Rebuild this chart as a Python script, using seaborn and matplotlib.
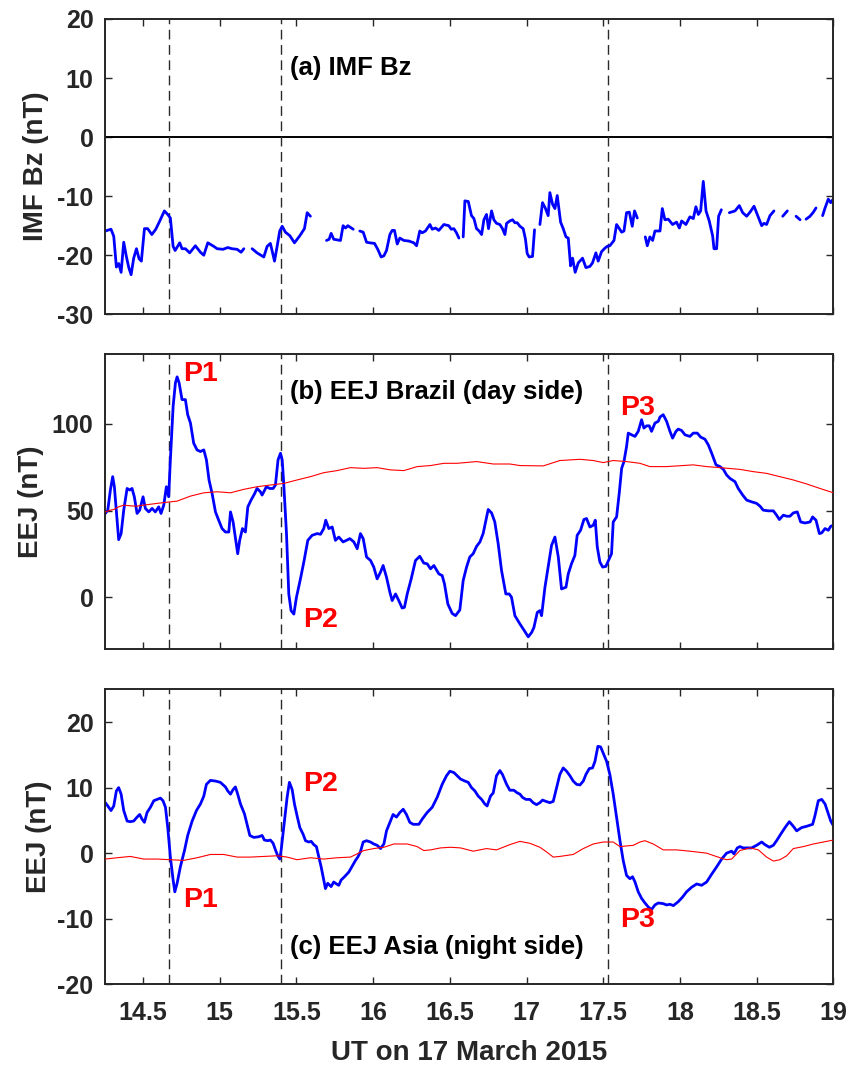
import numpy as np
import pandas as pd
import matplotlib
matplotlib.use("Agg")
import matplotlib.pyplot as plt
import seaborn as sns

nan = float("nan")

# ---- IMF Bz (nT); NaN marks data gaps ----
bz_time = [14.254, 14.291, 14.309, 14.326, 14.341, 14.357, 14.374, 14.391, 14.407, 14.422,
           14.439, 14.457, 14.474, 14.489, 14.509, 14.530, 14.557, 14.583, 14.609, 14.639,
           14.661, 14.678, 14.696, 14.709, 14.739, 14.754, 14.776, 14.804, 14.841, 14.874,
           14.896, 14.922, 14.961, 14.983, 15.022, 15.052, 15.080, 15.113, 15.139, 15.157,
           15.180,
           15.211, 15.243, 15.287, 15.309, 15.330, 15.357, 15.374, 15.391, 15.407, 15.428,
           15.457, 15.487, 15.522, 15.552, 15.570, 15.591,
           15.640,
           15.696, 15.713, 15.726, 15.743, 15.787, 15.804, 15.820, 15.835, 15.870,
           15.890,
           15.913, 15.935, 15.957, 15.978, 16.009, 16.030, 16.052, 16.070, 16.087, 16.109,
           16.124, 16.139, 16.157, 16.174, 16.200, 16.233, 16.265, 16.283, 16.304, 16.320,
           16.341, 16.370, 16.385, 16.407, 16.428, 16.461, 16.493, 16.509, 16.526, 16.543,
           16.559,
           16.573,
           16.587, 16.598, 16.620, 16.641, 16.657, 16.674, 16.691, 16.707, 16.722, 16.739,
           16.752, 16.772, 16.787, 16.804, 16.826, 16.843, 16.859, 16.870, 16.891, 16.909,
           16.924, 16.939, 16.957, 16.978, 16.993, 17.004, 17.017, 17.039, 17.052,
           17.070,
           17.087, 17.104, 17.122, 17.141, 17.152, 17.170, 17.185, 17.200, 17.222, 17.239,
           17.257, 17.272, 17.287, 17.300, 17.317, 17.337, 17.365, 17.387, 17.413, 17.430,
           17.452, 17.467, 17.489, 17.511, 17.526, 17.543, 17.570, 17.587, 17.620, 17.635,
           17.652, 17.670, 17.689, 17.704, 17.722,
           17.750,
           17.774, 17.787, 17.804, 17.822, 17.837, 17.870, 17.885, 17.902, 17.924, 17.952,
           17.978, 17.996, 18.011, 18.039, 18.065, 18.087, 18.104, 18.120, 18.135, 18.152,
           18.170, 18.191, 18.213, 18.222, 18.239, 18.252, 18.270,
           18.300,
           18.322, 18.359, 18.387, 18.409, 18.435, 18.457, 18.483, 18.504, 18.533, 18.548,
           18.565, 18.587, 18.613,
           18.640,
           18.670, 18.700,
           18.730,
           18.757, 18.783,
           18.800,
           18.822, 18.848, 18.870, 18.887,
           18.910,
           18.930, 18.946, 18.967, 18.983, 18.996]
bz_values = [-15.9, -15.6, -16.8, -22.0, -21.4, -22.9, -17.8, -20.2, -22.1, -23.3,
             -20.5, -18.9, -20.6, -21.0, -15.5, -15.5, -16.5, -15.6, -14.2, -12.5,
             -13.1, -13.7, -18.5, -19.2, -17.9, -18.9, -18.9, -19.6, -18.4, -19.5,
             -20.0, -17.9, -18.5, -18.9, -19.0, -18.7, -18.9, -19.0, -19.5, -18.9,
             nan,
             -18.9, -19.6, -20.3, -18.5, -18.0, -21.0, -18.5, -15.9, -15.1, -16.1,
             -16.7, -17.9, -16.7, -15.5, -12.8, -13.4,
             nan,
             -17.5, -17.3, -16.3, -17.3, -17.5, -15.0, -15.4, -15.0, -15.6,
             nan,
             -15.9, -16.1, -17.8, -17.9, -18.0, -19.0, -20.3, -20.1, -19.2, -16.5,
             -15.8, -15.8, -18.1, -17.1, -17.5, -17.6, -17.9, -18.4, -15.9, -16.2,
             -15.9, -14.8, -15.6, -15.4, -15.8, -14.8, -15.0, -15.6, -15.5, -16.2,
             -17.1,
             nan,
             -16.9, -10.8, -10.9, -13.3, -13.8, -15.5, -15.9, -16.5, -14.0, -13.1,
             -15.5, -12.5, -14.0, -14.6, -14.8, -15.5, -16.5, -14.6, -14.2, -14.0,
             -14.5, -14.5, -15.1, -15.5, -17.3, -19.7, -20.3, -20.2, -15.7,
             nan,
             -14.8, -11.1, -12.0, -13.3, -9.4, -11.4, -12.1, -9.9, -14.4, -15.5,
             -16.9, -17.1, -21.8, -20.5, -22.9, -21.3, -20.5, -22.1, -21.9, -21.3,
             -19.6, -21.0, -19.4, -18.8, -18.5, -18.4, -17.5, -14.8, -16.1, -15.9,
             -12.8, -12.7, -15.1, -12.5, -13.7,
             nan,
             -16.9, -18.4, -16.9, -17.5, -15.9, -15.9, -12.1, -14.0, -13.9, -14.8,
             -14.4, -15.4, -14.2, -14.8, -13.5, -13.8, -11.8, -13.1, -12.5, -7.5,
             -12.5, -14.2, -16.7, -18.9, -18.9, -13.4, -12.3,
             nan,
             -12.8, -12.5, -11.6, -12.8, -13.4, -12.7, -11.7, -13.1, -15.0, -14.6,
             -14.8, -13.3, -12.5,
             nan,
             -13.4, -12.5,
             nan,
             -13.4, -14.0,
             nan,
             -13.9, -13.4, -12.7, -12.0,
             nan,
             -13.3, -12.0, -10.5, -11.1, -10.6]

# ---- EEJ Brazil (nT) ----
brazil_time = [14.254, 14.270, 14.287, 14.302, 14.313, 14.341, 14.357, 14.374, 14.396, 14.413,
               14.428, 14.443, 14.461, 14.478, 14.500, 14.515, 14.537, 14.559, 14.580, 14.602,
               14.617, 14.635, 14.652, 14.667, 14.678, 14.696, 14.711, 14.722, 14.735, 14.754,
               14.776, 14.791, 14.809, 14.830, 14.852, 14.874, 14.896, 14.913, 14.930, 14.950,
               14.972, 14.993, 15.015, 15.037, 15.059, 15.070, 15.087, 15.104, 15.117, 15.130,
               15.148, 15.167, 15.183, 15.204, 15.226, 15.243, 15.265, 15.276, 15.304, 15.326,
               15.348, 15.363, 15.380, 15.396, 15.407, 15.417, 15.435, 15.450, 15.465, 15.483,
               15.500, 15.526, 15.548, 15.574, 15.602, 15.635, 15.657, 15.678, 15.691, 15.711,
               15.733, 15.754, 15.776, 15.804, 15.826, 15.848, 15.874, 15.896, 15.917, 15.935,
               15.957, 15.983, 16.004, 16.026, 16.048, 16.065, 16.087, 16.109, 16.124, 16.146,
               16.167, 16.189, 16.204, 16.222, 16.248, 16.276, 16.304, 16.330, 16.352, 16.374,
               16.396, 16.428, 16.450, 16.465, 16.487, 16.515, 16.537, 16.565, 16.587, 16.609,
               16.630, 16.652, 16.674, 16.696, 16.717, 16.735, 16.750, 16.772, 16.793, 16.815,
               16.837, 16.865, 16.887, 16.902, 16.924, 16.957, 16.983, 17.011, 17.033, 17.048,
               17.070, 17.087, 17.098, 17.120, 17.141, 17.163, 17.185, 17.207, 17.228, 17.257,
               17.272, 17.293, 17.315, 17.330, 17.352, 17.374, 17.391, 17.413, 17.435, 17.448,
               17.461, 17.478, 17.496, 17.517, 17.539, 17.554, 17.565, 17.587, 17.604, 17.620,
               17.635, 17.652, 17.663, 17.685, 17.707, 17.728, 17.750, 17.765, 17.783, 17.800,
               17.815, 17.837, 17.859, 17.870, 17.891, 17.913, 17.935, 17.952, 17.974, 17.989,
               18.011, 18.033, 18.065, 18.087, 18.113, 18.135, 18.163, 18.185, 18.207, 18.235,
               18.261, 18.283, 18.304, 18.326, 18.359, 18.380, 18.409, 18.435, 18.467, 18.500,
               18.522, 18.543, 18.576, 18.609, 18.630, 18.648, 18.674, 18.696, 18.717, 18.739,
               18.765, 18.787, 18.815, 18.848, 18.865, 18.887, 18.909, 18.924, 18.946, 18.967,
               18.983, 19.000]
brazil_eej = [48.3, 50.2, 61.8, 69.5, 63.7, 33.2, 36.7, 50.2, 62.7, 61.8,
              62.7, 57.9, 48.3, 50.2, 57.9, 51.2, 49.2, 51.2, 49.2, 52.1,
              48.3, 53.1, 63.7, 57.9, 79.2, 110.0, 123.6, 127.0, 123.6, 113.9,
              113.9, 105.2, 100.4, 88.8, 84.9, 84.0, 84.9, 79.2, 67.6, 59.8,
              49.2, 44.4, 39.6, 37.6, 37.6, 49.2, 43.4, 32.8, 25.1, 32.8,
              39.6, 37.6, 52.1, 56.0, 59.5, 62.7, 60.8, 58.9, 63.7, 62.7,
              62.7, 64.7, 79.2, 83.0, 79.2, 65.6, 36.7, 1.9, -7.7, -9.7,
              0.0, 10.6, 20.3, 32.8, 35.7, 36.7, 36.3, 39.6, 44.4, 39.6,
              40.5, 32.8, 34.7, 31.9, 32.8, 33.8, 31.9, 28.0, 36.7, 33.8,
              23.2, 21.2, 17.4, 10.6, 14.5, 18.3, 11.6, 2.9, -1.9, 1.9,
              -1.9, -6.2, -5.8, 1.9, 10.6, 21.2, 23.6, 19.7, 19.3, 16.4,
              18.3, 13.5, 12.5, 7.7, -3.9, -9.3, -10.6, -7.3, 9.7, 17.4,
              23.2, 25.1, 29.3, 31.9, 36.7, 44.4, 50.6, 48.6, 43.4, 30.9,
              15.4, 1.9, 1.9, 0.0, -10.6, -15.4, -18.9, -22.8, -20.3, -17.4,
              -8.7, -7.7, -10.6, 5.8, 17.4, 29.9, 34.7, 23.2, 4.8, 5.8,
              13.5, 19.3, 24.1, 35.7, 38.6, 44.8, 45.4, 40.5, 41.5, 44.4,
              29.0, 20.3, 17.4, 17.8, 22.2, 25.1, 43.4, 46.3, 59.8, 74.3,
              78.2, 86.9, 94.6, 93.6, 92.7, 95.6, 102.3, 97.5, 98.8, 98.8,
              95.6, 100.4, 101.4, 103.9, 105.2, 101.4, 95.6, 91.7, 95.6, 96.9,
              96.1, 93.6, 92.7, 94.6, 94.6, 92.3, 91.1, 87.8, 83.0, 76.3,
              75.3, 73.7, 70.5, 68.5, 66.6, 62.7, 58.9, 56.0, 55.0, 54.1,
              52.5, 50.2, 49.8, 49.8, 47.3, 44.8, 47.3, 46.7, 46.7, 48.6,
              49.2, 43.4, 42.8, 43.4, 46.3, 44.4, 36.7, 37.1, 39.6, 38.6,
              40.9, 41.5]

# ---- EEJ Brazil quiet-day reference (nT) ----
brazil_quiet_time = [14.254, 14.287, 14.309, 14.341, 14.374, 14.417, 14.461, 14.504, 14.591, 14.678,
                     14.722, 14.809, 14.896, 14.983, 15.070, 15.157, 15.243, 15.330, 15.417, 15.504,
                     15.591, 15.678, 15.765, 15.852, 15.939, 16.026, 16.113, 16.200, 16.287, 16.374,
                     16.461, 16.548, 16.674, 16.783, 16.891, 16.957, 17.109, 17.217, 17.348, 17.435,
                     17.500, 17.565, 17.652, 17.739, 17.804, 17.913, 18.087, 18.174, 18.261, 18.391,
                     18.478, 18.565, 18.652, 18.739, 18.826, 18.913, 19.000]
brazil_quiet = [49.2, 50.2, 50.6, 52.1, 53.1, 52.7, 52.5, 53.1, 54.1, 55.0,
                55.4, 58.3, 60.2, 60.8, 60.2, 62.2, 63.7, 64.7, 65.6, 67.6,
                69.5, 71.8, 73.0, 74.7, 74.3, 74.7, 73.4, 73.0, 75.3, 75.9,
                77.2, 77.2, 78.2, 76.8, 76.8, 75.9, 75.7, 78.8, 79.5, 78.8,
                77.6, 78.8, 78.2, 77.2, 75.3, 75.3, 76.3, 75.3, 74.7, 73.7,
                72.4, 71.4, 69.5, 67.6, 65.3, 62.7, 60.2]

# ---- EEJ Asia (nT) ----
asia_time = [14.254, 14.270, 14.291, 14.309, 14.326, 14.341, 14.357, 14.374, 14.396, 14.417,
             14.439, 14.461, 14.478, 14.493, 14.509, 14.526, 14.548, 14.570, 14.591, 14.613,
             14.630, 14.646, 14.661, 14.678, 14.696, 14.707, 14.722, 14.743, 14.770, 14.791,
             14.820, 14.848, 14.874, 14.896, 14.913, 14.939, 14.972, 15.004, 15.037, 15.052,
             15.070, 15.087, 15.102, 15.117, 15.135, 15.161, 15.178, 15.196, 15.222, 15.254,
             15.276, 15.291, 15.313, 15.330, 15.348, 15.363, 15.378, 15.391, 15.400, 15.417,
             15.439, 15.454, 15.472, 15.487, 15.504, 15.522, 15.543, 15.559, 15.580, 15.596,
             15.613, 15.630, 15.646, 15.661, 15.678, 15.689, 15.704, 15.726, 15.743, 15.761,
             15.776, 15.791, 15.813, 15.841, 15.863, 15.885, 15.900, 15.917, 15.935, 15.957,
             15.983, 16.004, 16.026, 16.048, 16.070, 16.087, 16.109, 16.130, 16.152, 16.174,
             16.196, 16.217, 16.239, 16.261, 16.298, 16.320, 16.352, 16.385, 16.417, 16.450,
             16.478, 16.500, 16.526, 16.548, 16.570, 16.598, 16.620, 16.641, 16.663, 16.685,
             16.707, 16.728, 16.743, 16.765, 16.783, 16.804, 16.826, 16.843, 16.870, 16.891,
             16.917, 16.939, 16.957, 16.974, 16.996, 17.022, 17.043, 17.065, 17.087, 17.104,
             17.126, 17.152, 17.174, 17.196, 17.217, 17.239, 17.261, 17.283, 17.304, 17.326,
             17.348, 17.370, 17.387, 17.409, 17.430, 17.446, 17.465, 17.483, 17.504, 17.522,
             17.543, 17.565, 17.587, 17.609, 17.630, 17.652, 17.674, 17.691, 17.707, 17.728,
             17.750, 17.772, 17.793, 17.815, 17.837, 17.859, 17.891, 17.913, 17.935, 17.957,
             17.989, 18.017, 18.043, 18.076, 18.109, 18.141, 18.174, 18.207, 18.239, 18.272,
             18.304, 18.337, 18.352, 18.374, 18.391, 18.413, 18.467, 18.500, 18.533, 18.554,
             18.583, 18.609, 18.630, 18.657, 18.685, 18.713, 18.739, 18.761, 18.793, 18.826,
             18.865, 18.880, 18.902, 18.924, 18.946, 18.967, 18.983, 19.000]
asia_eej = [7.7, 7.2, 6.5, 7.2, 9.5, 10.0, 9.0, 6.5, 4.9, 4.8,
            4.9, 5.5, 5.9, 5.2, 4.7, 6.2, 7.0, 8.0, 8.2, 8.4,
            8.0, 7.0, 3.9, -0.6, -4.1, -5.9, -4.6, -2.1, 0.4, 2.7,
            4.9, 6.5, 7.5, 8.7, 10.5, 11.1, 11.0, 10.8, 10.1, 9.5,
            9.0, 9.7, 10.1, 9.0, 7.5, 6.0, 4.4, 2.7, 2.4, 2.5,
            2.7, 2.0, 1.9, 2.0, 1.5, 0.5, -0.4, -0.9, 0.4, 3.9,
            8.5, 10.8, 9.7, 7.5, 5.7, 3.9, 2.9, 1.9, 1.7, 1.8,
            1.3, 1.0, -0.6, -2.1, -4.1, -5.4, -4.6, -5.1, -4.4, -4.7,
            -4.9, -4.1, -3.6, -2.9, -2.0, -1.1, -0.6, 0.2, 1.7, 1.9,
            1.7, 1.4, 1.2, 0.7, 1.4, 3.4, 4.7, 5.9, 5.5, 6.2,
            6.7, 5.9, 4.7, 4.4, 4.4, 5.2, 6.2, 7.0, 8.5, 10.5,
            11.8, 12.5, 12.3, 11.8, 11.3, 11.0, 10.8, 10.0, 9.5, 8.7,
            8.2, 7.5, 7.2, 8.7, 9.2, 11.8, 12.6, 12.0, 10.5, 9.6,
            9.6, 9.2, 9.0, 8.5, 8.2, 8.2, 7.7, 7.4, 7.7, 8.1,
            7.9, 7.7, 7.9, 10.0, 12.0, 13.0, 12.5, 11.8, 11.0, 10.5,
            10.4, 11.0, 12.0, 12.9, 13.0, 14.0, 16.3, 16.2, 15.0, 14.0,
            12.0, 9.0, 5.5, 1.9, -1.1, -3.4, -3.9, -3.6, -4.4, -5.9,
            -6.9, -7.6, -8.2, -8.6, -7.9, -7.6, -7.7, -7.9, -7.8, -8.0,
            -7.4, -6.7, -5.9, -5.2, -4.7, -4.9, -4.4, -3.2, -2.1, -0.9,
            0.0, 0.3, -0.1, 0.8, 1.0, 0.8, 0.8, 1.2, 1.7, 1.3,
            0.9, 1.2, 1.9, 2.9, 3.9, 4.8, 4.1, 3.4, 3.9, 4.1,
            4.4, 5.7, 8.0, 8.2, 7.5, 6.0, 4.9, 4.2]

# ---- EEJ Asia quiet-day reference (nT) ----
asia_quiet_time = [14.254, 14.330, 14.417, 14.504, 14.591, 14.678, 14.765, 14.852, 14.939, 15.026,
                   15.113, 15.200, 15.287, 15.374, 15.439, 15.504, 15.591, 15.678, 15.765, 15.852,
                   15.896, 15.939, 16.004, 16.070, 16.135, 16.222, 16.287, 16.330, 16.374, 16.439,
                   16.504, 16.570, 16.652, 16.739, 16.804, 16.891, 16.957, 17.022, 17.087, 17.130,
                   17.174, 17.217, 17.304, 17.370, 17.435, 17.500, 17.565, 17.609, 17.696, 17.739,
                   17.772, 17.826, 17.891, 17.978, 18.065, 18.174, 18.261, 18.304, 18.337, 18.391,
                   18.457, 18.511, 18.565, 18.609, 18.652, 18.696, 18.739, 18.804, 18.870, 18.935,
                   19.000]
asia_quiet = [-0.9, -0.7, -0.5, -0.9, -0.9, -1.0, -1.1, -0.7, -0.2, -0.2,
              -0.6, -0.6, -0.5, -0.4, -0.6, -1.0, -0.7, -0.9, -0.7, -0.6,
              -0.1, 0.4, 0.7, 0.9, 1.4, 1.4, 1.0, 0.4, 0.5, 0.8,
              0.9, 0.8, 0.3, 0.7, 0.5, 1.3, 1.8, 1.5, 0.9, 0.2,
              -0.6, -0.5, -0.2, 0.7, 1.4, 1.7, 1.7, 1.0, 1.2, 1.7,
              1.9, 1.4, 0.5, 0.5, 0.3, 0.0, -0.7, -1.0, -0.9, 0.4,
              0.8, 0.5, -0.6, -1.2, -1.0, -0.4, 0.7, 1.0, 1.4, 1.7,
              2.0]

# ---- event markers and axis ticks ----
event_times = [14.67, 15.40, 17.53]
x_ticks = [14.5, 15, 15.5, 16, 16.5, 17, 17.5, 18, 18.5, 19]
x_tick_labels = ["14.5", "15", "15.5", "16", "16.5", "17", "17.5", "18", "18.5", "19"]
bz_ticks = [-30, -20, -10, 0, 10, 20]
brazil_ticks = [0, 50, 100]
asia_ticks = [-20, -10, 0, 10, 20]

# ---- style ----
sns.set_style("ticks")
plt.rcParams["font.family"] = ["Liberation Sans", "DejaVu Sans"]
plt.rcParams["font.weight"] = "bold"
plt.rcParams["axes.labelweight"] = "bold"
plt.rcParams["axes.unicode_minus"] = False

INK = "#262626"
BLUE = "#0000FF"
RED = "#FF0000"

fig = plt.figure(figsize=(8.52, 10.65), dpi=100)
ax_a = fig.add_axes([0.1229, 0.7049, 0.8552, 0.2773])
ax_b = fig.add_axes([0.1229, 0.3903, 0.8552, 0.2770])
ax_c = fig.add_axes([0.1229, 0.0758, 0.8552, 0.2770])


def segmented_frame(t, v):
    df = pd.DataFrame({"t": t, "v": v})
    df["seg"] = df["v"].isna().cumsum()
    return df.dropna()


bz_df = segmented_frame(bz_time, bz_values)
sns.lineplot(data=bz_df, x="t", y="v", units="seg", estimator=None, sort=False,
             color=BLUE, lw=2.0, ax=ax_a)
ax_a.axhline(0, color="black", lw=1.4, zorder=1)

sns.lineplot(x=brazil_quiet_time, y=brazil_quiet, color=RED, lw=0.8, ax=ax_b, zorder=3)
sns.lineplot(x=brazil_time, y=brazil_eej, color=BLUE, lw=2.0, ax=ax_b, zorder=2)

sns.lineplot(x=asia_quiet_time, y=asia_quiet, color=RED, lw=0.8, ax=ax_c, zorder=3)
sns.lineplot(x=asia_time, y=asia_eej, color=BLUE, lw=2.0, ax=ax_c, zorder=2)

limits = {ax_a: (-30, 20), ax_b: (-30, 140), ax_c: (-20, 25)}
yticks = {ax_a: bz_ticks, ax_b: brazil_ticks, ax_c: asia_ticks}
ylabels = {ax_a: "IMF Bz (nT)", ax_b: "EEJ (nT)", ax_c: "EEJ (nT)"}
ylabel_x = {ax_a: -0.077, ax_b: -0.084, ax_c: -0.073}

for ax in (ax_a, ax_b, ax_c):
    for t in event_times:
        ax.axvline(t, color="#2a2a2a", lw=1.0, dashes=(7, 4), zorder=1)
    ax.set_xlim(14.25, 19.0)
    ax.set_ylim(*limits[ax])
    ax.set_xticks(x_ticks)
    ax.set_yticks(yticks[ax])
    ax.tick_params(direction="in", length=5, width=1.0, colors=INK,
                   top=True, right=True, labelsize=18, pad=8)
    for s in ax.spines.values():
        s.set_color(INK)
        s.set_linewidth(1.4)
    ax.set_ylabel(ylabels[ax], fontsize=20, fontweight="bold", color=INK)
    ax.yaxis.set_label_coords(ylabel_x[ax], 0.5)
    ax.set_xlabel("")
    for lab in ax.get_yticklabels():
        lab.set_fontweight("bold")

ax_a.set_xticklabels([])
ax_b.set_xticklabels([])
ax_c.set_xticklabels(x_tick_labels, fontweight="bold")
ax_c.tick_params(axis="x", pad=12)
ax_c.set_xlabel("UT on 17 March 2015", fontsize=20, fontweight="bold", color=INK)
ax_c.xaxis.set_label_coords(0.5, -0.19)

# panel titles
title_kw = dict(fontsize=18.5, fontweight="bold", color="black", ha="left", va="center")
ax_a.text(15.46, 11.7, "(a) IMF Bz", **title_kw)
ax_b.text(15.46, 118.3, "(b) EEJ Brazil (day side)", **title_kw)
ax_c.text(15.46, -14.3, "(c) EEJ Asia (night side)", **title_kw)

# event labels
p_kw = dict(fontsize=20.5, fontweight="bold", color=RED, ha="left", va="center")
ax_b.text(14.76, 128.7, "P1", **p_kw)
ax_b.text(15.544, -13.1, "P2", **p_kw)
ax_b.text(17.61, 109.1, "P3", **p_kw)
ax_c.text(14.76, -7.2, "P1", **p_kw)
ax_c.text(15.544, 10.6, "P2", **p_kw)
ax_c.text(17.61, -10.2, "P3", **p_kw)

fig.savefig("out.png", dpi=100)
